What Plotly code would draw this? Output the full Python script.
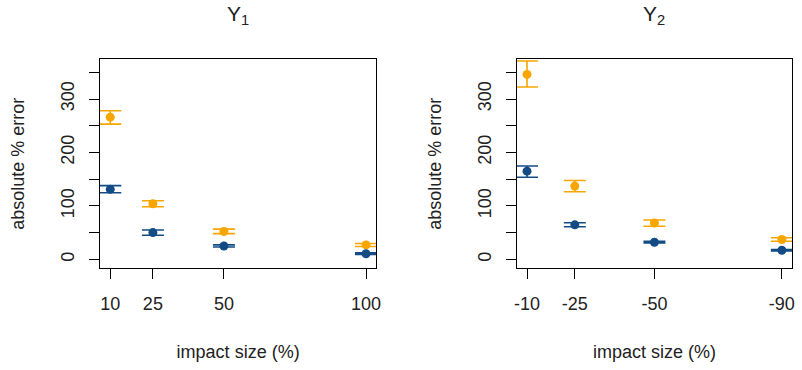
import plotly.graph_objects as go

# ---- data ----
x_left = [10, 25, 50, 100]
x_right = [10, 25, 50, 90]
x_left_labels = ["10", "25", "50", "100"]
x_right_labels = ["-10", "-25", "-50", "-90"]

y1_orange = [266, 104, 52, 27]
y1_orange_up = [12, 5.5, 4.5, 2.5]
y1_orange_dn = [13, 5.7, 4, 3]
y1_blue = [131, 50, 25, 10.5]
y1_blue_up = [7, 5, 2, 1.5]
y1_blue_dn = [6.5, 5, 2, 1.5]

y2_orange = [346, 137, 68, 37]
y2_orange_up = [25, 10.5, 5.5, 3.3]
y2_orange_dn = [23.5, 10.6, 6.2, 3.3]
y2_blue = [165, 64.5, 32, 17]
y2_blue_up = [9.5, 4, 1.5, 1.5]
y2_blue_dn = [11.5, 3.5, 1.5, 1.5]

y_tickvals = [0, 100, 200, 300]
y_ticktext = ["0", "100", "200", "300"]
y_minorvals = [50, 150, 250, 350]

ORANGE = "#F7A600"
BLUE = "#134C85"
FONT = "Liberation Sans, Arial, sans-serif"

fig = go.Figure()

def add(x, y, up, dn, color, xa, ya):
    fig.add_trace(go.Scatter(
        x=x, y=y, mode="markers", xaxis=xa, yaxis=ya,
        marker=dict(color=color, size=9),
        error_y=dict(type="data", symmetric=False, array=up, arrayminus=dn,
                     color=color, thickness=1.6, width=11),
        showlegend=False))

add(x_left, y1_orange, y1_orange_up, y1_orange_dn, ORANGE, "x", "y")
add(x_left, y1_blue, y1_blue_up, y1_blue_dn, BLUE, "x", "y")
add(x_right, y2_orange, y2_orange_up, y2_orange_dn, ORANGE, "x2", "y2")
add(x_right, y2_blue, y2_blue_up, y2_blue_dn, BLUE, "x2", "y2")

W, H = 802, 370
ydom = [1 - 268.3 / H, 1 - 59.3 / H]

axis_common = dict(showline=True, mirror=True, linecolor="black", linewidth=1,
                   ticks="outside", ticklen=10, tickcolor="black", tickwidth=1,
                   showgrid=False, zeroline=False,
                   tickfont=dict(family=FONT, size=18, color="#222"))

minor_y = dict(tickvals=y_minorvals, ticks="outside", ticklen=10,
               tickcolor="black", tickwidth=1, showgrid=False)

fig.update_layout(
    width=W, height=H, margin=dict(l=0, r=0, t=0, b=0),
    paper_bgcolor="white", plot_bgcolor="white",
    font=dict(family=FONT, color="#222"),
    xaxis=dict(domain=[98 / W, 377 / W], range=[6.4, 103.6], anchor="y",
               tickvals=x_left, ticktext=x_left_labels, ticklabelstandoff=9,
               title=dict(text="impact size (%)", font=dict(size=18), standoff=32),
               **axis_common),
    yaxis=dict(domain=ydom, range=[-16.8, 374.3], anchor="x",
               tickvals=y_tickvals, ticktext=y_ticktext, tickangle=-90,
               ticklabelstandoff=8, minor=minor_y,
               title=dict(text="absolute % error", font=dict(size=18), standoff=28),
               **axis_common),
    xaxis2=dict(domain=[519 / W, 797 / W], range=[6.8, 93.2], anchor="y2",
                tickvals=x_right, ticktext=x_right_labels, ticklabelstandoff=9,
                title=dict(text="impact size (%)", font=dict(size=18), standoff=32),
                **axis_common),
    yaxis2=dict(domain=ydom, range=[-16.8, 374.3], anchor="x2",
                tickvals=y_tickvals, ticktext=y_ticktext, tickangle=-90,
                ticklabelstandoff=8, minor=minor_y,
                title=dict(text="absolute % error", font=dict(size=18), standoff=28),
                **axis_common),
    annotations=[
        dict(text="Y<sub>1</sub>", x=237.5 / W, y=1 - 15 / H, xref="paper", yref="paper",
             showarrow=False, font=dict(size=21, family=FONT, color="#222"),
             xanchor="center", yanchor="middle"),
        dict(text="Y<sub>2</sub>", x=658 / W, y=1 - 15 / H, xref="paper", yref="paper",
             showarrow=False, font=dict(size=21, family=FONT, color="#222"),
             xanchor="center", yanchor="middle"),
    ],
)

fig.write_html("out.html")
